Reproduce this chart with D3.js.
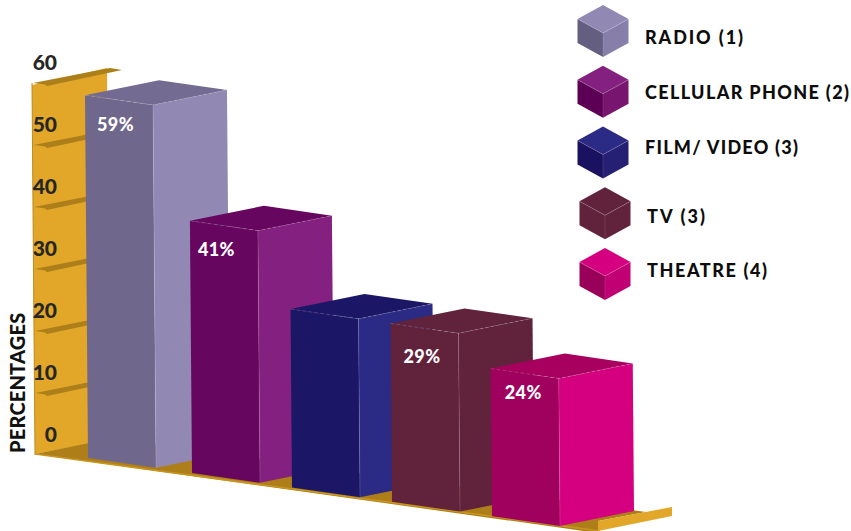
<!DOCTYPE html>
<html>
<head>
<meta charset="utf-8">
<script src="https://cdnjs.cloudflare.com/ajax/libs/d3/7.8.5/d3.min.js"></script>
<style>
    html, body { margin: 0; padding: 0; background: #fff; }
    text { font-family: Lato, "Open Sans", sans-serif; font-weight: 900; }
</style>
</head>
<body>
<svg id="chart" width="851" height="531"></svg>
<script>
// values
const categories = ["RADIO", "CELLULAR PHONE", "FILM", "TV", "THEATRE"];
const percentages = [59, 41, 29, 29, 24];
const barLabels = ["59%", "41%", "", "29%", "24%"];
const legendLabels = ["RADIO (1)", "CELLULAR PHONE (2)", "FILM/ VIDEO (3)", "TV (3)", "THEATRE (4)"];
const axisTicks = [0, 10, 20, 30, 40, 50, 60];

// colours
const frontColors = ["#70678c", "#66065f", "#1b1766", "#61223c", "#a0005e"];
const sideColors = ["#9189b4", "#84207f", "#2b2a84", "#61223c", "#d4007f"];
const topColors = ["#736b91", "#66065f", "#1b1766", "#61223c", "#a8005f"];
const cubeTop = ["#9189b4", "#84207f", "#2b2a84", "#61223c", "#d4007f"];
const cubeLeft = ["#645f80", "#5d0055", "#1a1261", "#61223c", "#98005a"];
const cubeRight = ["#877fa9", "#77156f", "#252074", "#61223c", "#c00073"];

const svg = d3.select("#chart");

// scales
const xScale = d3.scaleBand().domain(categories).range([92, 560]).paddingInner(0.32);
const floorY = d3.scaleLinear().domain([88, 560]).range([458, 526]);
const heightScale = d3.scaleLinear().domain([0, 60]).range([0, 369]);
const axisY = d3.scaleLinear().domain([0, 60]).range([455, 83]);
const legendY = d3.scalePoint().domain(categories).range([33, 276]);

const depthX = 74, depthY = -15, lean = 0.0083;
const pts = arr => arr.map(p => p.join(",")).join(" ");

// first bar sits a little further from the second than the others do
const barLeft = (c, i) => xScale(c) - (i === 0 ? 4 : 0);

// corner of a box: along 0/1 across the front, deep 0/1 towards the back, up 0/1
function corner(c, i, along, deep, up) {
    const gx = barLeft(c, i) + along * xScale.bandwidth();
    const h = heightScale(percentages[i]) * up;
    return [gx - h * lean + deep * depthX, floorY(gx) - h + deep * depthY];
}

// wall
const wallX = y => 35 - 3 * (455 - y) / 372;
svg.append("polygon")
    .attr("points", pts([[wallX(axisY(60)), axisY(60) + 2], [107, axisY(60) - 15], [109, 440], [wallX(axisY(0)), axisY(0) - 1]]))
    .attr("fill", "#e2a729");
svg.append("line")
    .attr("x1", wallX(axisY(60))).attr("y1", axisY(60))
    .attr("x2", wallX(axisY(0))).attr("y2", axisY(0))
    .attr("stroke", "#bd8a1c").attr("stroke-width", 1);

// shelves at the ticks
svg.append("g").selectAll("polygon")
    .data(axisTicks.filter(d => d > 0))
    .join("polygon")
    .attr("points", d => {
        const y = axisY(d), x = wallX(y) + 1;
        return pts([[x, y], [110, y - 15], [122, y - 13], [47, y + 3], [45, y + 1.5]]);
    })
    .attr("fill", "#ac7f1a");

// floor
svg.append("polygon")
    .attr("points", pts([[35, 454], [109, 439], [646, 512], [598, 521], [598, 533]]))
    .attr("fill", "#ae7f18");
svg.append("line")
    .attr("x1", 35).attr("y1", 454).attr("x2", 600).attr("y2", 531)
    .attr("stroke", "#c8951f").attr("stroke-width", 1.5);
svg.append("polygon")
    .attr("points", pts([[598, 521], [672, 507], [672, 516], [598, 531]]))
    .attr("fill", "#e2a729");

// axis labels
const yAxis = d3.axisLeft(axisY).tickValues(axisTicks).tickSize(0).tickPadding(0).tickFormat(d3.format("d"));
const axisG = svg.append("g").attr("transform", "translate(57,-20)").call(yAxis);
axisG.select(".domain").remove();
axisG.selectAll(".tick text")
    .style("font-family", "Lato, sans-serif")
    .style("font-weight", 900)
    .style("font-size", "21px")
    .attr("fill", "#262626");

svg.append("text")
    .attr("transform", "translate(25,453) rotate(-90)")
    .attr("font-size", 20)
    .attr("letter-spacing", 0.2)
    .attr("fill", "#111")
    .text("PERCENTAGES");

// bars
const bars = svg.append("g").selectAll("g")
    .data(categories)
    .join("g");

bars.append("polygon")
    .attr("points", (c, i) => pts([corner(c, i, 0, 0, 1), corner(c, i, 1, 0, 1), corner(c, i, 1, 0, 0), corner(c, i, 0, 0, 0)]))
    .attr("fill", (c, i) => frontColors[i]);
bars.append("polygon")
    .attr("points", (c, i) => pts([corner(c, i, 1, 0, 1), corner(c, i, 1, 1, 1), corner(c, i, 1, 1, 0), corner(c, i, 1, 0, 0)]))
    .attr("fill", (c, i) => sideColors[i]);
bars.append("polygon")
    .attr("points", (c, i) => pts([corner(c, i, 0, 0, 1), corner(c, i, 0, 1, 1), corner(c, i, 1, 1, 1), corner(c, i, 1, 0, 1)]))
    .attr("fill", (c, i) => topColors[i]);
// light edges
bars.append("polyline")
    .attr("points", (c, i) => pts([corner(c, i, 0, 0, 1), corner(c, i, 1, 0, 1), corner(c, i, 1, 1, 1)]))
    .attr("fill", "none").attr("stroke", "#fff").attr("stroke-opacity", 0.25)
    .attr("stroke-width", 0.7).attr("stroke-dasharray", "4,2");
bars.append("line")
    .attr("x1", (c, i) => corner(c, i, 1, 0, 1)[0]).attr("y1", (c, i) => corner(c, i, 1, 0, 1)[1])
    .attr("x2", (c, i) => corner(c, i, 1, 0, 0)[0]).attr("y2", (c, i) => corner(c, i, 1, 0, 0)[1])
    .attr("stroke", "#fff").attr("stroke-opacity", 0.2).attr("stroke-width", 0.7);

// value labels, hand placed on the front faces
const labelDx = [12, 8, 0, 13, 14];
const labelDy = [36, 35, 0, 40, 30];
bars.append("text")
    .attr("x", (c, i) => corner(c, i, 0, 0, 1)[0] + labelDx[i])
    .attr("y", (c, i) => corner(c, i, 0, 0, 1)[1] + labelDy[i])
    .attr("font-size", 18)
    .attr("letter-spacing", 0.4)
    .attr("fill", "#fff")
    .text((c, i) => barLabels[i]);

// legend
const cubeW = 25.5, cubeD = 14, cubeH = 24;
const legendDy = [4, -2, -8, 1, -6];
const legendTextWidth = [98, 204, 153, 58, 120];
const cubeX = i => 603 + (i > 2 ? 2 : 0);
const legend = svg.append("g").selectAll("g")
    .data(categories)
    .join("g")
    .attr("transform", (c, i) => "translate(" + cubeX(i) + "," + legendY(c) + ")");

legend.append("polygon")
    .attr("points", pts([[0, 0], [-cubeW, -cubeD], [0, -2 * cubeD], [cubeW, -cubeD]]))
    .attr("fill", (c, i) => cubeTop[i]);
legend.append("polygon")
    .attr("points", pts([[0, 0], [-cubeW, -cubeD], [-cubeW, cubeH - cubeD], [0, cubeH]]))
    .attr("fill", (c, i) => cubeLeft[i]);
legend.append("polygon")
    .attr("points", pts([[0, 0], [cubeW, -cubeD], [cubeW, cubeH - cubeD], [0, cubeH]]))
    .attr("fill", (c, i) => cubeRight[i]);
legend.append("polyline")
    .attr("points", pts([[-cubeW, -cubeD], [0, 0], [cubeW, -cubeD]]))
    .attr("fill", "none").attr("stroke", "#fff").attr("stroke-opacity", 0.25).attr("stroke-width", 0.7);
legend.append("line")
    .attr("x1", 0).attr("y1", 0).attr("x2", 0).attr("y2", cubeH)
    .attr("stroke", "#fff").attr("stroke-opacity", 0.15).attr("stroke-width", 0.7);
legend.append("text")
    .attr("x", 42)
    .attr("y", (c, i) => legendDy[i] + 7)
    .attr("font-size", 18)
    .attr("textLength", (c, i) => legendTextWidth[i])
    .attr("lengthAdjust", "spacing")
    .attr("fill", "#0d0d0d")
    .text((c, i) => legendLabels[i]);
</script>
</body>
</html>
